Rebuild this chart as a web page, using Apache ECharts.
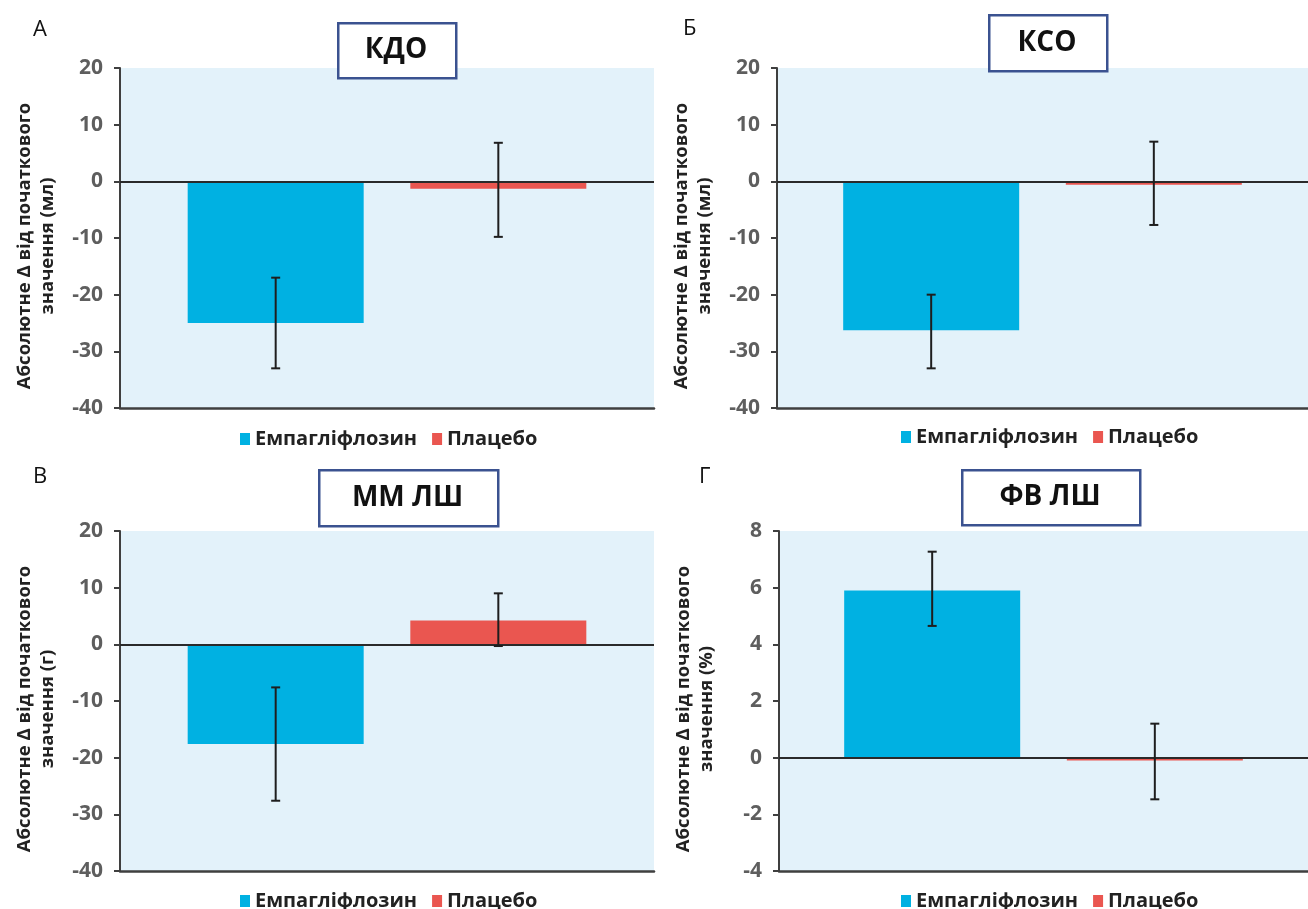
<!DOCTYPE html>
<html><head><meta charset="utf-8">
<script src="https://cdn.jsdelivr.net/npm/echarts@6/dist/echarts.min.js"></script>
<style>html,body{margin:0;padding:0;background:#fff}#c{width:1308px;height:909px}</style>
</head><body><div id="c"></div>
<script>
// ---- data ----
const seriesNames = ['Емпагліфлозин', 'Плацебо'];
const panelTitles = ['КДО', 'КСО', 'ММ ЛШ', 'ФВ ЛШ'];
const panelLetters = ['А', 'Б', 'В', 'Г'];
const yAxisLine1 = 'Абсолютне Δ від початкового';
const yUnits = ['значення (мл)', 'значення (мл)', 'значення (г)', 'значення (%)'];
const empaValues = [-25, -26.3, -17.6, 5.9];
const placeboValues = [-1.3, -0.6, 4.2, -0.1];
const empaErrLow = [-33, -33, -27.6, 4.65];
const empaErrHigh = [-17, -20, -7.6, 7.27];
const placeboErrLow = [-9.8, -7.7, -0.3, -1.47];
const placeboErrHigh = [6.8, 7, 9, 1.2];
const yMin = [-40, -40, -40, -4];
const yMax = [20, 20, 20, 8];
const yInterval = [10, 10, 10, 2];

// ---- layout / style ----
const FONT = 'Open Sans';
const BLUE = '#00b1e2';
const RED = '#ea5650';
const BG = '#e3f2fa';
const AXIS = '#3f3f3f';
const BAR_W = 176;
const BAR_GAP = '26.5%';
const layout = [
  { grid: { left: 120, top: 68, width: 534, height: 340 }, legend: { left: 235, top: 424 }, box: [337, 22, 118, 55], letter: [33, 19] },
  { grid: { left: 777, top: 68, width: 542, height: 340 }, legend: { left: 896, top: 422 }, box: [988, 14, 118, 56], letter: [683, 18] },
  { grid: { left: 120, top: 531, width: 534, height: 340 }, legend: { left: 235, top: 886 }, box: [318, 469, 179, 56], letter: [33, 466] },
  { grid: { left: 779, top: 531, width: 538, height: 340 }, legend: { left: 896, top: 886 }, box: [961, 469, 178, 55], letter: [699, 466] }
];

const chart = echarts.init(document.getElementById('c'));
const grids = [], xAxes = [], yAxes = [], legends = [], series = [], graphics = [];

layout.forEach((L, i) => {
  grids.push(Object.assign({ show: true, backgroundColor: BG, borderWidth: 0, containLabel: false }, L.grid));
  xAxes.push({
    type: 'category', gridIndex: i, data: [''],
    axisLine: { onZero: false, lineStyle: { color: AXIS, width: 2.5 } },
    axisTick: { show: false }, axisLabel: { show: false }, splitLine: { show: false }
  });
  yAxes.push({
    type: 'value', gridIndex: i, min: yMin[i], max: yMax[i], interval: yInterval[i],
    name: yAxisLine1 + '\n' + yUnits[i], nameLocation: 'middle', nameGap: 61, nameMoveOverlap: false,
    nameTextStyle: { fontFamily: FONT, fontWeight: 'bold', fontSize: 18.5, color: '#222', lineHeight: 23, padding: [0, 16, 0, 0] },
    axisLine: { show: true, lineStyle: { color: AXIS, width: 2 } },
    axisTick: { show: true, length: 6, lineStyle: { color: AXIS, width: 2 } },
    axisLabel: { fontFamily: FONT, fontSize: 21, fontWeight: 'bold', color: '#5e5e5e', margin: 17 },
    splitLine: { show: false }
  });
  legends.push({
    data: seriesNames, left: L.legend.left, top: L.legend.top, icon: 'rect',
    itemWidth: 10, itemHeight: 12, itemGap: 15, selectedMode: false,
    textStyle: { fontFamily: FONT, fontWeight: 'bold', fontSize: 20, color: '#222' }
  });
  series.push({
    type: 'bar', name: seriesNames[0], xAxisIndex: i, yAxisIndex: i,
    data: [empaValues[i]], barWidth: BAR_W, barGap: BAR_GAP,
    itemStyle: { color: BLUE }, emphasis: { disabled: true }
  });
  series.push({
    type: 'bar', name: seriesNames[1], xAxisIndex: i, yAxisIndex: i,
    data: [placeboValues[i]], barWidth: BAR_W, barGap: BAR_GAP,
    itemStyle: { color: RED }, emphasis: { disabled: true },
    markLine: {
      silent: true, symbol: ['none', 'none'], label: { show: false },
      lineStyle: { color: '#2a2a2a', width: 2.2, type: 'solid' },
      emphasis: { disabled: true }, data: [{ yAxis: 0 }]
    }
  });
  series.push({
    type: 'custom', xAxisIndex: i, yAxisIndex: i, z: 5, silent: true,
    data: [[0, empaErrLow[i], empaErrHigh[i], 0], [0, placeboErrLow[i], placeboErrHigh[i], 1]],
    encode: { x: 0, y: [1, 2] },
    renderItem: function (params, api) {
      const idx = api.value(3);
      let off;
      if (api.barLayout) {
        const lay = api.barLayout({ count: 2, barWidth: BAR_W, barGap: BAR_GAP });
        off = lay[idx].offsetCenter;
      } else {
        off = (idx === 0 ? -1 : 1) * BAR_W * 1.265 / 2;
      }
      const lo = api.coord([api.value(0), api.value(1)]);
      const hi = api.coord([api.value(0), api.value(2)]);
      const x = lo[0] + off, hw = 4.5;
      const st = { stroke: '#1e1e1e', lineWidth: 2 };
      return {
        type: 'group', children: [
          { type: 'line', shape: { x1: x, y1: lo[1], x2: x, y2: hi[1] }, style: st },
          { type: 'line', shape: { x1: x - hw, y1: lo[1], x2: x + hw, y2: lo[1] }, style: st },
          { type: 'line', shape: { x1: x - hw, y1: hi[1], x2: x + hw, y2: hi[1] }, style: st }
        ]
      };
    }
  });
  const b = L.box;
  graphics.push({
    type: 'rect', left: b[0], top: b[1], shape: { width: b[2], height: b[3] },
    style: { fill: '#fff', stroke: '#3b5290', lineWidth: 2.5 }, z: 10
  });
  graphics.push({
    type: 'text', x: b[0] + b[2] / 2, y: b[1] + b[3] / 2 + 1, z: 11,
    style: { text: panelTitles[i], fontFamily: FONT, fontWeight: 'bold', fontSize: 28, fill: '#111', align: 'center', verticalAlign: 'middle' }
  });
  graphics.push({
    type: 'text', left: L.letter[0], top: L.letter[1], z: 11,
    style: { text: panelLetters[i], fontFamily: FONT, fontSize: 22, fill: '#111' }
  });
});

chart.setOption({
  animation: false,
  grid: grids, xAxis: xAxes, yAxis: yAxes, legend: legends, series: series, graphic: graphics
});
</script></body></html>
